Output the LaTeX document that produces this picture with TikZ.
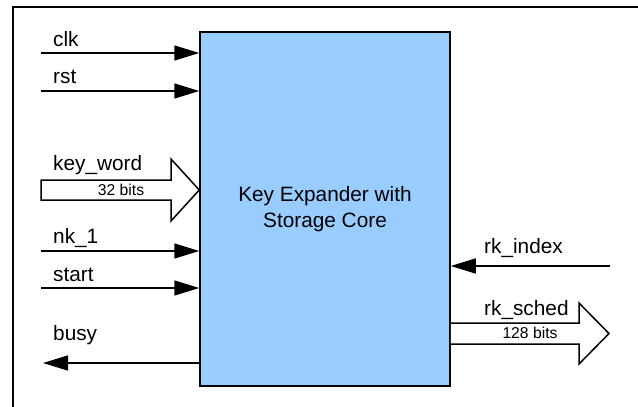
\documentclass[tikz,border=0pt]{standalone}
\usepackage{fontspec}
\setmainfont{Liberation Sans}
\usetikzlibrary{arrows.meta}
\definecolor{coreblue}{HTML}{99CCFF}

\begin{document}
\begin{tikzpicture}[x=1pt,y=-1pt,
  sig/.style={line width=1.5pt, -{Triangle[length=25pt,width=15pt]}},
  lbl/.style={anchor=base west, inner sep=0pt, font=\fontsize{20.8}{25}\selectfont},
  bits/.style={inner sep=0pt, font=\fontsize{15.7}{18}\selectfont},
  bus/.style={line width=1.5pt, fill=white, line join=miter},
  frame/.style={line width=2pt, line join=miter},
]
\useasboundingbox (0,0) rectangle (638,407);
\clip (0,0) rectangle (638,407);

% outer frame (open to the right and bottom)
\draw[frame] (13,410) -- (13,7) -- (640,7);

% core block
\node[draw, line width=1.5pt, fill=coreblue, minimum width=250pt,
      minimum height=354pt, inner sep=0pt] (core) at (325,209) {};
\node[align=center, font=\fontsize{20.8}{25.5}\selectfont] (title)
      at (core.center) {Key Expander with\\Storage Core};

% single-bit inputs
\coordinate (clkS) at (41,53);
\draw[sig] (clkS) -- (clkS -| core.west);
\node[lbl] (clkL) at (53,46) {clk};

\coordinate (rstS) at (41,91);
\draw[sig] (rstS) -- (rstS -| core.west);
\node[lbl] (rstL) at (53,83) {rst};

\coordinate (nkS) at (41,251);
\draw[sig] (nkS) -- (nkS -| core.west);
\node[lbl] (nkL) at (53,243) {nk\_1};

\coordinate (startS) at (41,288);
\draw[sig] (startS) -- (startS -| core.west);
\node[lbl] (startL) at (53,281) {start};

% single-bit outputs / right-side input
\coordinate (busyE) at (43,363);
\draw[sig] (busyE -| core.west) -- (busyE);
\node[lbl] (busyL) at (53,340) {busy};

\coordinate (rkiS) at (610,266);
\draw[sig] (rkiS) -- (rkiS -| core.east);
\node[lbl] (rkiL) at (484,253) {rk\_index};

% 32-bit key word bus
\coordinate (kwS) at (41,190);
\coordinate (kwT) at (kwS -| core.west);
\draw[bus] (41,180) -- (171,180) -- (171,159) -- (kwT) -- (171,221)
           -- (171,200) -- (41,200) -- cycle;
\node[lbl] (kwL) at (53,170) {key\_word};
\node[bits] (kwB) at (121,190) {32 bits};

% 128-bit round key bus
\coordinate (rsS) at (core.east |- 0,333.5);
\coordinate (rsT) at (609,333.5);
\draw[bus] (rsS |- 0,323) -- (579,323) -- (579,303) -- (rsT) -- (579,364)
           -- (579,344) -- (rsS |- 0,344);
\node[lbl] (rsL) at (484,315) {rk\_sched};
\node[bits] (rsB) at (530,333) {128 bits};
\end{tikzpicture}
\end{document}
